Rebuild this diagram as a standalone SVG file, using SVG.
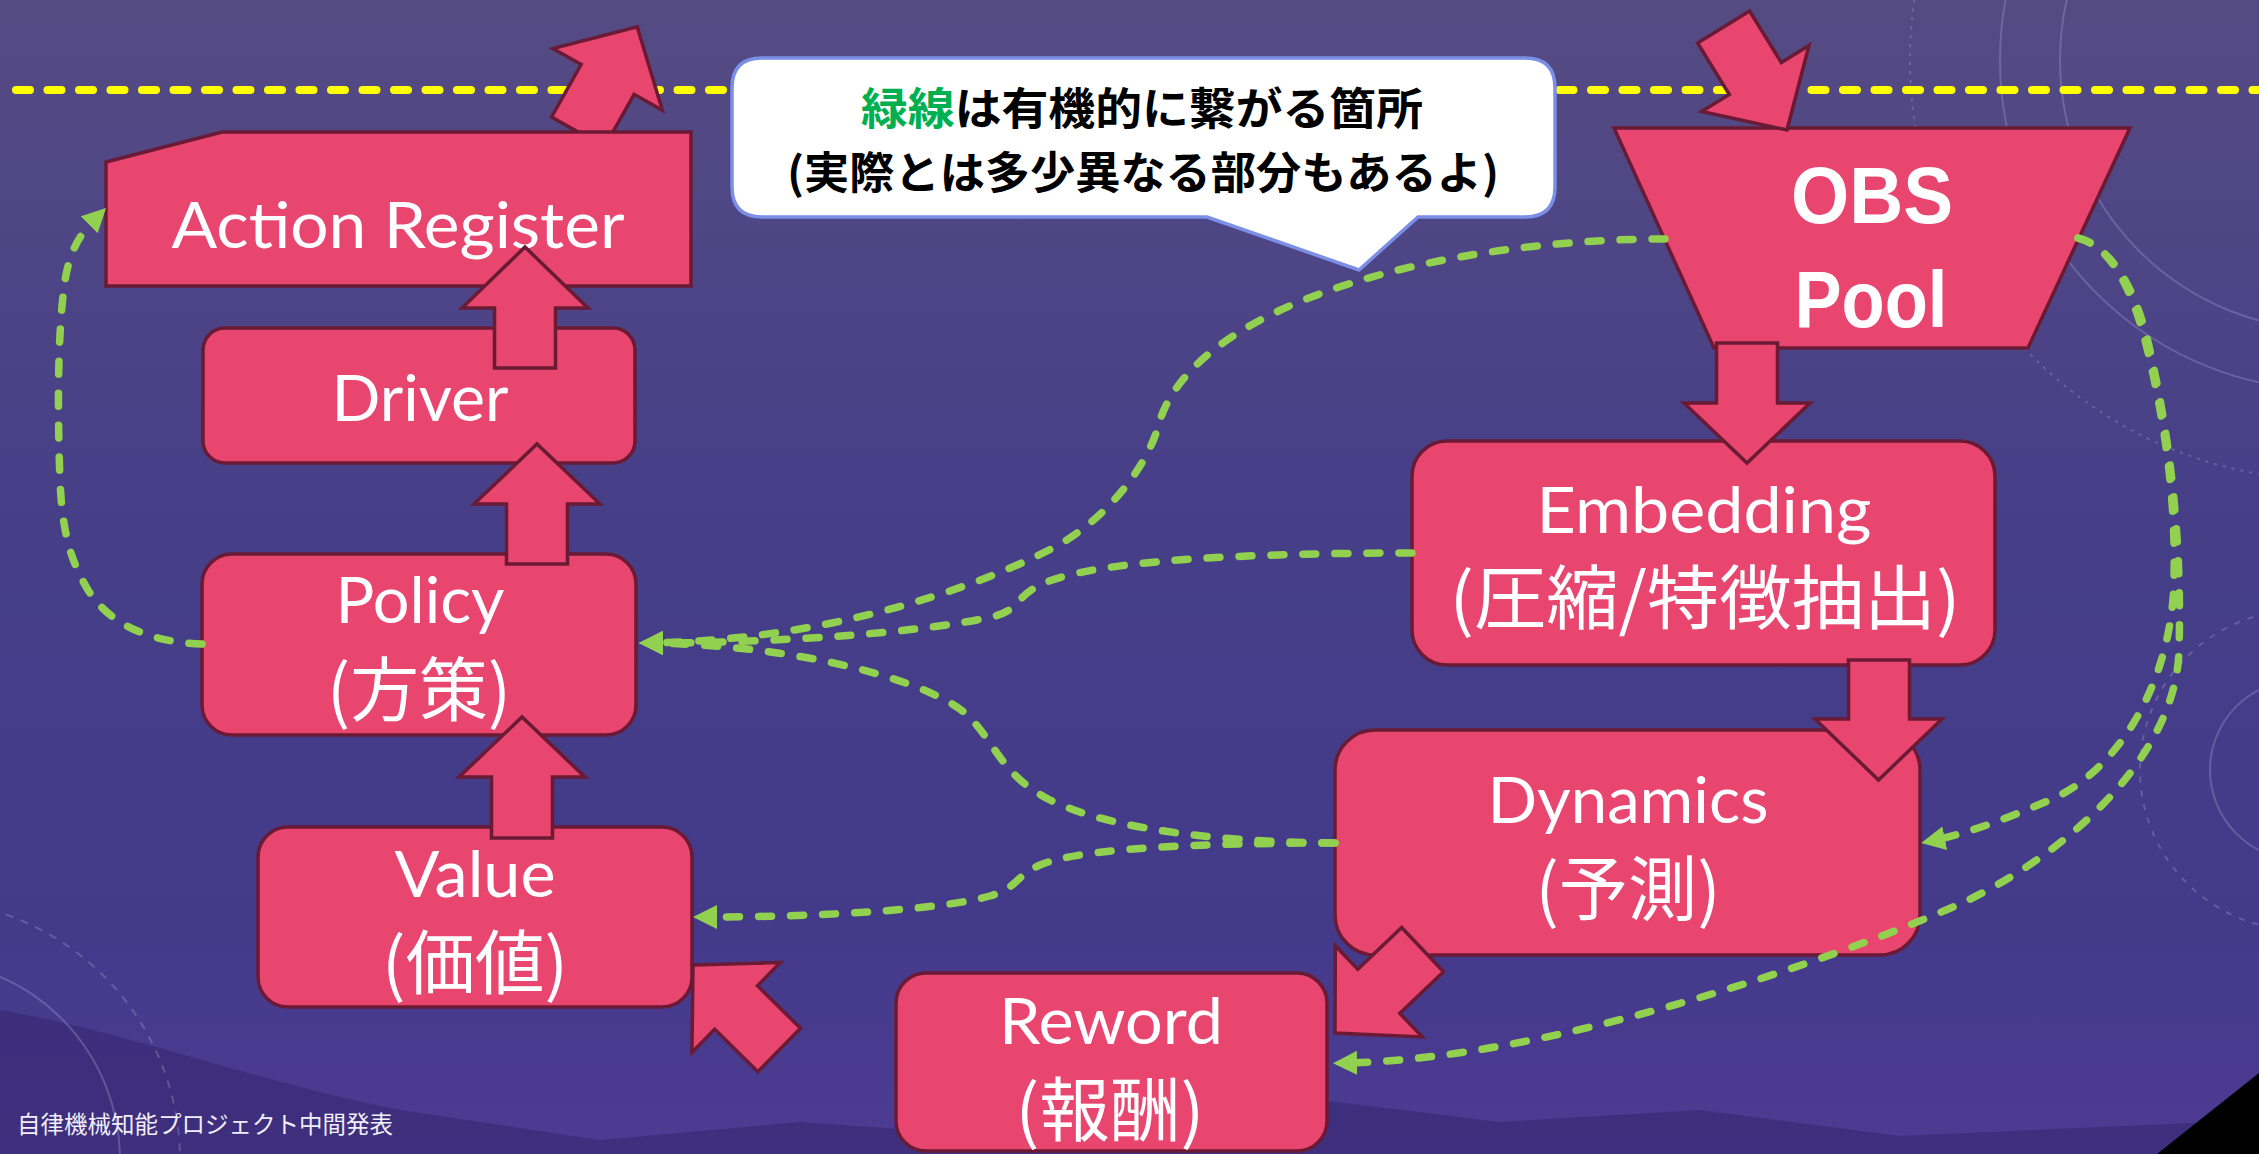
<svg xmlns="http://www.w3.org/2000/svg" width="2259" height="1154" viewBox="0 0 2259 1154">
<defs>
<linearGradient id="bg" x1="0" y1="0" x2="0" y2="1">
<stop offset="0" stop-color="#554b83"/>
<stop offset="0.45" stop-color="#463f88"/>
<stop offset="0.8" stop-color="#433a8a"/>
<stop offset="1" stop-color="#4d3b92"/>
</linearGradient>
<marker id="gh" markerUnits="userSpaceOnUse" viewBox="0 0 24 24" markerWidth="24" markerHeight="24" refX="14" refY="12" orient="auto"><path d="M0,0 L24,12 L0,24 Z" fill="#92d050"/></marker>
</defs>
<style>
.box{fill:#e8456f;stroke:#6a1a34;stroke-width:3.5;stroke-linejoin:miter}
.lbl{font-family:Lato,"Noto Sans CJK JP",sans-serif;fill:#ffffff;text-anchor:middle;font-size:64px}
.jp{font-family:"Noto Sans CJK JP",sans-serif;font-size:70px}
.obs{font-family:"Liberation Sans",Arial,sans-serif;font-weight:bold;font-size:80px}
.g{fill:none;stroke:#92d050;stroke-width:7.5;stroke-linecap:round;stroke-dasharray:13 19;marker-end:url(#gh)}
.deco{fill:none;stroke:#a49ad0;stroke-opacity:0.35;stroke-width:2}
.call{font-family:"Noto Sans CJK JP",sans-serif;font-weight:700;font-size:44px;fill:#000000;text-anchor:middle}
</style>

<g id="background">
<rect x="0" y="0" width="2259" height="1154" fill="url(#bg)"/>
<path d="M0,1010 C120,1030 250,1080 400,1110 L600,1140 L800,1122 L1000,1136 L1150,1096 L1230,1082 L1320,1100 L1500,1122 L1700,1110 L1900,1136 L2259,1120 L2259,1154 L0,1154 Z" fill="#2e2265" opacity="0.45"/>
<circle class="deco" cx="2330" cy="60" r="330"/>
<circle class="deco" cx="2330" cy="60" r="270"/>
<circle class="deco" cx="2330" cy="60" r="420" stroke-dasharray="3 6"/>
<circle class="deco" cx="2300" cy="770" r="90"/>
<circle class="deco" cx="2300" cy="770" r="160" stroke-dasharray="6 8"/>
<circle class="deco" cx="-80" cy="1160" r="200"/>
<circle class="deco" cx="-80" cy="1160" r="260" stroke-dasharray="8 8"/>
<line x1="16" y1="90" x2="2259" y2="90" stroke="#ffff00" stroke-width="8" stroke-linecap="round" stroke-dasharray="14 17.5"/>
<polygon points="2157,1154 2259,1073 2259,1154" fill="#000000"/>
<text x="17" y="1133" font-family="'Noto Sans CJK JP',sans-serif" font-size="23.5" fill="#f0eef8" textLength="376" lengthAdjust="spacingAndGlyphs">自律機械知能プロジェクト中間発表</text>
</g>

<g id="connectors-back">
<polygon class="box" points="551.5,117.1 581.1,64.5 552.8,48.5 637.2,26.8 662.4,110.3 634.1,94.3 604.5,146.9"/>
</g>

<g id="callout">
<path d="M762,58 L1525,58 Q1555,58 1555,88 L1555,187 Q1555,217 1525,217 L1418,217 L1359,270 L1207,217 L762,217 Q732,217 732,187 L732,88 Q732,58 762,58 Z" fill="#ffffff" stroke="#7b8fe6" stroke-width="3.5"/>
<text class="call" x="1142" y="125" textLength="562" lengthAdjust="spacingAndGlyphs"><tspan fill="#00b050">緑線</tspan>は有機的に繋がる箇所</text>
<text class="call" x="1143" y="189" textLength="712" lengthAdjust="spacingAndGlyphs">(実際とは多少異なる部分もあるよ)</text>
</g>

<g id="action-register">
<polygon class="box" points="106,162 222,132 691,132 691,286 106,286"/>
<text class="lbl" x="398" y="248" textLength="453" lengthAdjust="spacingAndGlyphs">Action Register</text>
</g>

<g id="driver">
<rect class="box" x="203" y="328" width="432" height="135" rx="22"/>
<text class="lbl" x="420" y="421" textLength="177" lengthAdjust="spacingAndGlyphs">Driver</text>
</g>

<g id="policy">
<rect class="box" x="202" y="554" width="434" height="181" rx="30"/>
<text class="lbl" x="420" y="623" textLength="169" lengthAdjust="spacingAndGlyphs">Policy</text>
<text class="lbl jp" x="419" y="716" textLength="184" lengthAdjust="spacingAndGlyphs">(方策)</text>
</g>

<g id="value">
<rect class="box" x="258" y="827" width="434" height="180" rx="30"/>
<text class="lbl" x="475" y="897" textLength="161" lengthAdjust="spacingAndGlyphs">Value</text>
<text class="lbl jp" x="475" y="989" textLength="186" lengthAdjust="spacingAndGlyphs">(価値)</text>
</g>

<g id="obs-pool">
<polygon class="box" points="1614,128 2130,128 2028,348 1714,348"/>
<text class="lbl obs" x="1872" y="223" textLength="162" lengthAdjust="spacingAndGlyphs">OBS</text>
<text class="lbl obs" x="1871" y="327" textLength="153" lengthAdjust="spacingAndGlyphs">Pool</text>
</g>

<g id="embedding">
<rect class="box" x="1412" y="441" width="583" height="224" rx="35"/>
<text class="lbl" x="1704" y="533" textLength="335" lengthAdjust="spacingAndGlyphs">Embedding</text>
<text class="lbl jp" x="1705" y="624" textLength="511" lengthAdjust="spacingAndGlyphs">(圧縮/特徴抽出)</text>
</g>

<g id="dynamics">
<rect class="box" x="1335" y="730" width="585" height="225" rx="40"/>
<text class="lbl" x="1628" y="823" textLength="281" lengthAdjust="spacingAndGlyphs">Dynamics</text>
<text class="lbl jp" x="1628" y="915" textLength="185" lengthAdjust="spacingAndGlyphs">(予測)</text>
</g>

<g id="reword">
<rect class="box" x="896" y="973" width="431" height="178" rx="30"/>
<text class="lbl" x="1111" y="1044" textLength="224" lengthAdjust="spacingAndGlyphs">Reword</text>
<text class="lbl jp" x="1110" y="1136" textLength="189" lengthAdjust="spacingAndGlyphs">(報酬)</text>
</g>

<g id="connectors">
<polygon class="box" points="1749.6,11 1781.3,62.5 1809,45.5 1787,130 1701.6,111.5 1729.3,94.5 1697.6,43"/>
<polygon class="box" points="1716.5,343 1777.5,343 1777.5,403 1810,403 1747,463 1684,403 1716.5,403"/>
<polygon class="box" points="1848.5,660 1909.5,660 1909.5,719 1942,719 1878.5,780 1815,719 1848.5,719"/>
<polygon class="box" points="494.5,368 555.5,368 555.5,308 588,308 525,247 462,308 494.5,308"/>
<polygon class="box" points="506.5,564 567.5,564 567.5,504 600,504 537,444 474,504 506.5,504"/>
<polygon class="box" points="491.5,838 552.5,838 552.5,777 585,777 522,717 459,777 491.5,777"/>
<polygon class="box" points="693,965 780.3,962.6 757.5,985.8 800.6,1028.3 757.8,1071.7 714.7,1029.2 691.9,1052.4"/>
<polygon class="box" points="1401.6,927.5 1357.8,969.2 1335.3,945.7 1335,1033 1422.3,1036.9 1399.8,1013.4 1443.6,971.7"/>

<path class="g" d="M202,644 C150,642 110,625 88,590 C70,560 62,530 60,480 C57,400 58,320 66,275 C72,245 82,232 99,215"/>
<path class="g" d="M1665,239 C1450,239 1200,300 1160,420 C1148,470 1100,525 1049,550 C1000,575 850,640 649,643"/>
<path class="g" d="M1412,553 C1250,553 1090,560 1040,585 C1015,597 1022,608 995,616 C930,632 780,643 649,643"/>
<path class="g" d="M1335,843 C1200,842 1100,825 1050,800 C1000,775 995,740 965,713 C925,680 800,645 649,643"/>
<path class="g" d="M1335,843 C1200,843 1080,848 1040,865 C1015,876 1018,888 990,896 C940,910 820,917 703,917"/>
<path class="g" d="M2078,238 C2110,245 2132,290 2145,340 C2165,420 2176,500 2174,580 C2172,680 2120,770 2050,800 C2010,817 1970,833 1931,841"/>
<path class="g" d="M2078,238 C2118,250 2140,300 2152,360 C2172,450 2182,550 2179,650 C2176,760 2060,860 1953,907 C1838,957 1550,1060 1343,1063"/>
</g>
</svg>
